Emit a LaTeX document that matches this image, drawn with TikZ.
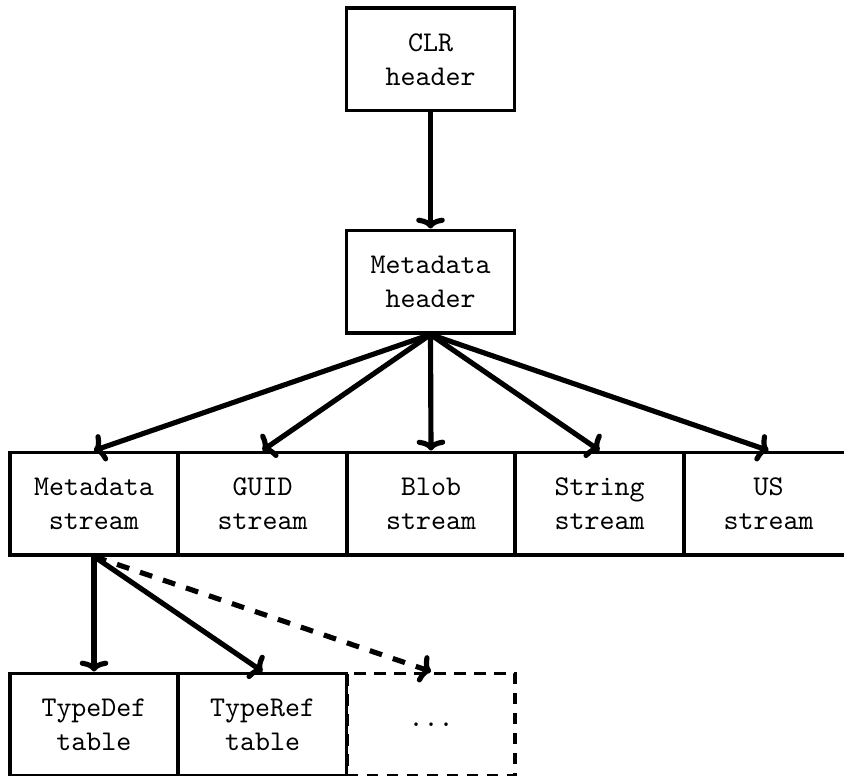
\documentclass[tikz,border=0pt]{standalone}
\usetikzlibrary{arrows.meta}
\begin{document}
\begin{tikzpicture}[x=0.35pt,y=-0.35pt,
  box/.style={draw,line width=1.1pt,minimum width=58.8pt,minimum height=36pt,inner sep=0pt,align=center,font=\ttfamily,text depth=0pt},
  dbox/.style={box,dashed,dash pattern=on 4pt off 3pt},
  link/.style={line width=1.8pt,-{To[length=3.8pt,width=10pt]}},
  dlink/.style={link,dash pattern=on 4.5pt off 4pt}]
\useasboundingbox (0,0) rectangle (844,775);
\clip (0,0) rectangle (844,775);
\node[dbox] (dots) at (431,724.5) {...};
\node[box] (clr) at (430.5,59.5) {CLR\\header};
\node[box] (mh) at (430.5,281.5) {Metadata\\header};
\node[box] (ms) at (94,503.5) {Metadata\\stream};
\node[box] (gs) at (262.5,503.5) {GUID\\stream};
\node[box] (bs) at (431,503.5) {Blob\\stream};
\node[box] (ss) at (599.5,503.5) {String\\stream};
\node[box] (us) at (768.5,503.5) {US\\stream};
\node[box] (td) at (94,724.5) {TypeDef\\table};
\node[box] (tr) at (262.5,724.5) {TypeRef\\table};
\draw[link] (clr.south) -- (mh.north);
\foreach \n in {ms,gs,bs,ss,us} \draw[link] (mh.south) -- (\n.north);
\draw[link] (ms.south) -- (td.north);
\draw[link] (ms.south) -- (tr.north);
\draw[dlink] (ms.south) -- (dots.north);
\end{tikzpicture}
\end{document}
